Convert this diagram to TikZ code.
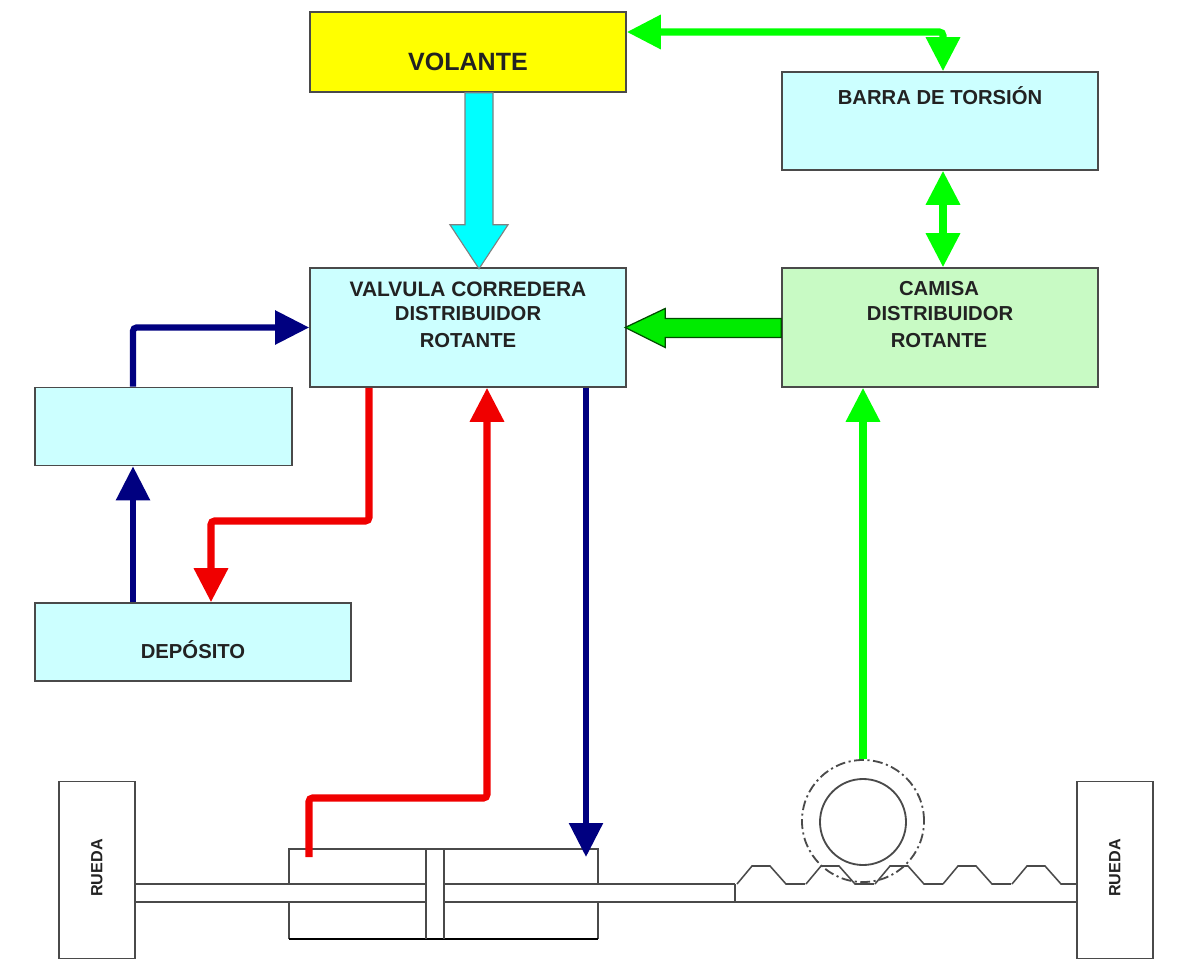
\documentclass[tikz,border=0pt]{standalone}
\usepackage{fontspec}
\setmainfont{Liberation Sans}
\usetikzlibrary{arrows.meta,calc}
\definecolor{celeste}{HTML}{CCFFFF}
\definecolor{verdeclaro}{HTML}{C8FAC4}
\definecolor{verdevivo}{HTML}{00FF00}
\definecolor{marino}{HTML}{000080}
\definecolor{rojovivo}{HTML}{F00000}
\definecolor{borde}{HTML}{4A4A4A}
\definecolor{letra}{HTML}{222222}
\definecolor{amarillo}{HTML}{FFFF00}
\definecolor{turquesa}{HTML}{00FFFF}
\tikzset{
	caja/.style={draw=borde, line width=1.1pt, inner sep=0pt},
	cajagrande/.style={caja, minimum width=7.9cm},
	rueda/.style={draw=borde, line width=1.1pt, fill=white, inner sep=0pt, minimum width=1.9cm, minimum height=4.43cm},
	letrero/.style={text=letra, font=\bfseries\fontsize{14.4}{18}\selectfont, inner sep=0pt},
	tubo/.style={line width=4.6pt, rounded corners=2.5pt, >={Triangle[length=0.85cm,width=0.82cm]}},
	tuboverde/.style={tubo, verdevivo, line width=5pt},
	tuborojo/.style={tubo, rojovivo, line width=5pt},
	tuboazul/.style={tubo, marino, line width=4.4pt},
	pieza/.style={draw=borde, line width=1.1pt},
}
\begin{document}
\begin{tikzpicture}[x=0.025cm, y=-0.025cm]
	\useasboundingbox (0,0) rectangle (1190,960);

	% Main boxes
	\node[cajagrande, fill=amarillo, minimum height=2cm] (volante) at (468,52) {};
	\node[letrero, font=\bfseries\fontsize{17.8}{20}\selectfont] (volantetxt) at (468,62) {VOLANTE};

	\node[cajagrande, fill=celeste, minimum height=2.45cm] (barra) at (940,121) {};
	\node[letrero] (barratxt) at (940,96) {BARRA DE TORSIÓN};

	\node[cajagrande, fill=celeste, minimum height=2.975cm] (valvula) at (468,327.5) {};
	\node[letrero, font=\bfseries\fontsize{14.9}{18}\selectfont] (valvulatxt1) at (468,289) {VALVULA CORREDERA};
	\node[letrero] (valvulatxt2) at (468,314) {DISTRIBUIDOR};
	\node[letrero] (valvulatxt3) at (468,341) {ROTANTE};

	\node[cajagrande, fill=verdeclaro, minimum height=2.975cm] (camisa) at (940,327.5) {};
	\node[letrero] (camisatxt1) at (939,289) {CAMISA};
	\node[letrero] (camisatxt2) at (940,314) {DISTRIBUIDOR};
	\node[letrero] (camisatxt3) at (939,341) {ROTANTE};

	\node[caja, fill=celeste, minimum width=6.425cm, minimum height=1.95cm] (bomba) at (163.5,426.5) {};

	\node[cajagrande, fill=celeste, minimum height=1.95cm] (deposito) at (193,642) {};
	\node[letrero] (depositotxt) at (193,650) {DEPÓSITO};

	% Rack teeth
	\foreach \x in {737,806,875,943,1012} {
		\draw[pieza] (\x,884) -- ++(15,-18) -- ++(18,0) -- ++(16,18) -- ++(19,0);
	}
	\draw[pieza] (735,884) -- (735,902);

	% Wheels
	\node[rueda] (ruedaizq) at (97,870) {};
	\node[letrero, rotate=90, font=\bfseries\fontsize{11.5}{13}\selectfont] (ruedaizqtxt) at (97,868) {RUEDA};
	\node[rueda] (ruedader) at (1115,870) {};
	\node[letrero, rotate=90, font=\bfseries\fontsize{11.5}{13}\selectfont] (ruedadertxt) at (1115,868) {RUEDA};

	% Rod, broken by the piston
	\draw[pieza] (ruedaizq.east |- 0,884) -- (426,884);
	\draw[pieza] (ruedaizq.east |- 0,902) -- (426,902);
	\draw[pieza] (444,884) -- (735,884);
	\draw[pieza] (444,902) -- (ruedader.west |- 0,902);

	% Cylinder and piston
	\draw[pieza] (289,884) -- (289,849) -- (598,849) -- (598,884);
	\draw[pieza] (289,902) -- (289,939);
	\draw[pieza] (598,902) -- (598,939);
	\draw[black, line width=2pt] (289,939) -- (598,939);
	\draw[pieza] (426,849) -- (426,939);
	\draw[pieza] (444,849) -- (444,939);

	% Pinion
	\node[circle, draw=borde, line width=1.3pt, inner sep=0pt, minimum size=2.15cm] (pinion) at (863,822) {};
	\node[circle, draw=borde, line width=1.3pt, dash pattern=on 7pt off 2.5pt on 1.5pt off 2.5pt, inner sep=0pt, minimum size=3.05cm] (pinionext) at (863,821) {};

	% Free ends on the cylinder
	\coordinate (cilrojo) at (309,857);
	\coordinate (codorojo) at (487,798);
	\coordinate (cilazul) at (586,857);
	\coordinate (codoazul) at (133,327.5);
	\coordinate (codorojob) at (369,521);
	\coordinate (codorojoc) at (211,521);
	\coordinate (ejeverde) at (943,72);

	% Wide arrows
	\draw[draw=borde!70, line width=0.8pt, fill=turquesa] ($(volante.south)+(-3,0)$) -- ++(0,132) -- ++(-15,0) -- ++(29,44) -- ++(29,-44) -- ++(-15,0) -- ++(0,-132) -- cycle;
	\draw[draw=black!70!green, line width=0.9pt, fill=verdevivo!92!black] ($(camisa.west)+(0,-9)$) -- ++(-116,0) -- ++(0,-10) -- ++(-40,19) -- ++(40,20) -- ++(0,-10) -- ++(116,0) -- cycle;

	% Green connections
	\draw[tuboverde, <->] ($(volante.east)+(0,-20)$) -| (barra.north -| ejeverde);
	\draw[tuboverde, <->] (barra.south -| ejeverde) -- (camisa.north -| ejeverde);
	\draw[tuboverde, ->] (pinionext.north) -- (pinionext.north |- camisa.south);

	% Blue connections
	\draw[tuboazul, ->] (bomba.north -| codoazul) -- (codoazul) -- (valvula.west);
	\draw[tuboazul, ->] (deposito.north -| codoazul) -- (bomba.south -| codoazul);
	\draw[tuboazul, ->] (valvula.south -| cilazul) -- (cilazul);

	% Red connections
	\draw[tuborojo, ->] (valvula.south -| codorojob) -- (codorojob) -- (codorojoc) -- (deposito.north -| codorojoc);
	\draw[tuborojo, ->] (cilrojo) |- (codorojo) -- (codorojo |- valvula.south);
\end{tikzpicture}
\end{document}
